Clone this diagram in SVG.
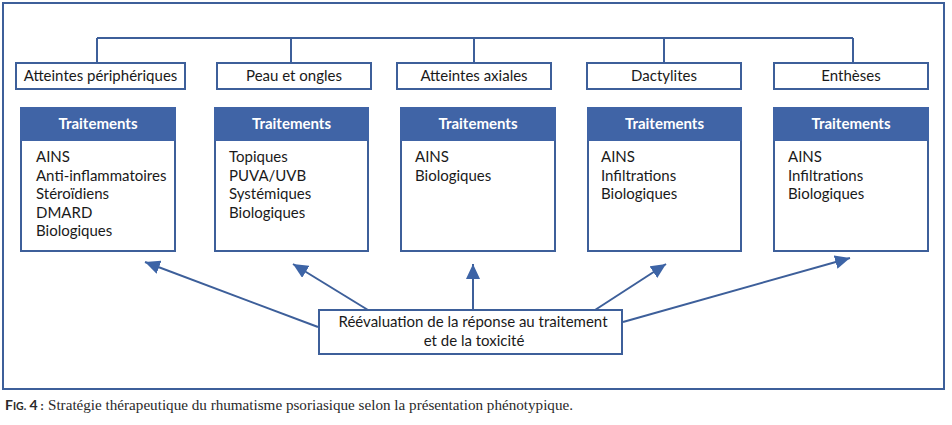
<svg xmlns="http://www.w3.org/2000/svg" width="952" height="425" viewBox="0 0 952 425">
  <defs>
    <style>
      .frame { fill: #ffffff; stroke: #3d5f9a; stroke-width: 2; }
      .box { fill: #ffffff; stroke: #3d5f9a; stroke-width: 2; }
      .head { fill: #4064a6; stroke: #4064a6; stroke-width: 2; }
      .ln { fill: none; stroke: #3d5f9a; stroke-width: 2; }
      .arr { fill: none; stroke: #3d5f9a; stroke-width: 2; marker-end: url(#ah); }
      .t { font-family: Lato, "Liberation Sans", sans-serif; font-size: 15px; fill: #1a1a1a; }
      .c { text-anchor: middle; }
      .h { font-family: Lato, "Liberation Sans", sans-serif; font-size: 15px; font-weight: bold; fill: #ffffff; text-anchor: middle; }
      .cap { font-family: "Liberation Serif", serif; font-size: 14px; fill: #2a2a2a; }
      .capb { font-family: Lato, "Liberation Sans", sans-serif; font-weight: bold; fill: #2a2a2a; }
    </style>
    <marker id="ah" markerUnits="userSpaceOnUse" markerWidth="16" markerHeight="14" refX="15" refY="7" orient="auto">
      <path d="M0,0 L15,7 L0,14 Z" fill="#3d64a6"/>
    </marker>
  </defs>

  <rect class="frame" x="3" y="3" width="941" height="386"/>

  <g id="connectors">
    <path class="ln" d="M97,38 H853 M97,38 V63 M291,38 V63 M474,38 V63 M664,38 V63 M853,38 V63"/>
    <line class="arr" x1="318" y1="327" x2="145" y2="262"/>
    <line class="arr" x1="368" y1="310" x2="293" y2="264"/>
    <line class="arr" x1="473" y1="310" x2="473" y2="264"/>
    <line class="arr" x1="595" y1="310" x2="666" y2="264"/>
    <line class="arr" x1="623" y1="322" x2="850" y2="258"/>
  </g>

  <g id="cat-peripheriques">
    <rect class="box" x="16" y="63" width="169" height="26"/>
    <text class="t c" x="100.5" y="81">Atteintes périphériques</text>
  </g>
  <g id="cat-peau">
    <rect class="box" x="217" y="63" width="154" height="26"/>
    <text class="t c" x="294" y="81">Peau et ongles</text>
  </g>
  <g id="cat-axiales">
    <rect class="box" x="397" y="63" width="154" height="26"/>
    <text class="t c" x="474" y="81">Atteintes axiales</text>
  </g>
  <g id="cat-dactylites">
    <rect class="box" x="587" y="63" width="154" height="26"/>
    <text class="t c" x="664" y="81">Dactylites</text>
  </g>
  <g id="cat-entheses">
    <rect class="box" x="774" y="63" width="154" height="26"/>
    <text class="t c" x="851" y="81">Enthèses</text>
  </g>

  <g id="tr-peripheriques">
    <rect class="box" x="21" y="108" width="154" height="143"/>
    <rect class="head" x="21" y="108" width="154" height="32"/>
    <text class="h" x="98" y="129">Traitements</text>
    <text class="t" x="36" y="162">AINS</text>
    <text class="t" x="36" y="180.5">Anti-inflammatoires</text>
    <text class="t" x="36" y="199">Stéroïdiens</text>
    <text class="t" x="36" y="217.5">DMARD</text>
    <text class="t" x="36" y="236">Biologiques</text>
  </g>
  <g id="tr-peau">
    <rect class="box" x="215" y="108" width="153" height="143"/>
    <rect class="head" x="215" y="108" width="153" height="32"/>
    <text class="h" x="291.5" y="129">Traitements</text>
    <text class="t" x="229" y="162">Topiques</text>
    <text class="t" x="229" y="180.5">PUVA/UVB</text>
    <text class="t" x="229" y="199">Systémiques</text>
    <text class="t" x="229" y="217.5">Biologiques</text>
  </g>
  <g id="tr-axiales">
    <rect class="box" x="401" y="108" width="154" height="143"/>
    <rect class="head" x="401" y="108" width="154" height="32"/>
    <text class="h" x="478" y="129">Traitements</text>
    <text class="t" x="415" y="162">AINS</text>
    <text class="t" x="415" y="180.5">Biologiques</text>
  </g>
  <g id="tr-dactylites">
    <rect class="box" x="588" y="108" width="153" height="143"/>
    <rect class="head" x="588" y="108" width="153" height="32"/>
    <text class="h" x="664.5" y="129">Traitements</text>
    <text class="t" x="601" y="162">AINS</text>
    <text class="t" x="601" y="180.5">Infiltrations</text>
    <text class="t" x="601" y="199">Biologiques</text>
  </g>
  <g id="tr-entheses">
    <rect class="box" x="774" y="108" width="154" height="143"/>
    <rect class="head" x="774" y="108" width="154" height="32"/>
    <text class="h" x="851" y="129">Traitements</text>
    <text class="t" x="788" y="162">AINS</text>
    <text class="t" x="788" y="180.5">Infiltrations</text>
    <text class="t" x="788" y="199">Biologiques</text>
  </g>

  <g id="reevaluation">
    <rect class="box" x="319" y="310" width="303" height="44"/>
    <text class="t c" x="473" y="327">Réévaluation de la réponse au traitement</text>
    <text class="t c" x="474" y="346">et de la toxicité</text>
  </g>

  <g id="caption">
    <text class="capb" x="5" y="410"><tspan font-size="14">F</tspan><tspan font-size="10.5">IG.</tspan><tspan font-size="14"> 4</tspan><tspan font-size="12">&#160;:</tspan></text>
    <text class="cap" x="48" y="410" textLength="525" lengthAdjust="spacingAndGlyphs">Stratégie thérapeutique du rhumatisme psoriasique selon la présentation phénotypique.</text>
  </g>
</svg>
